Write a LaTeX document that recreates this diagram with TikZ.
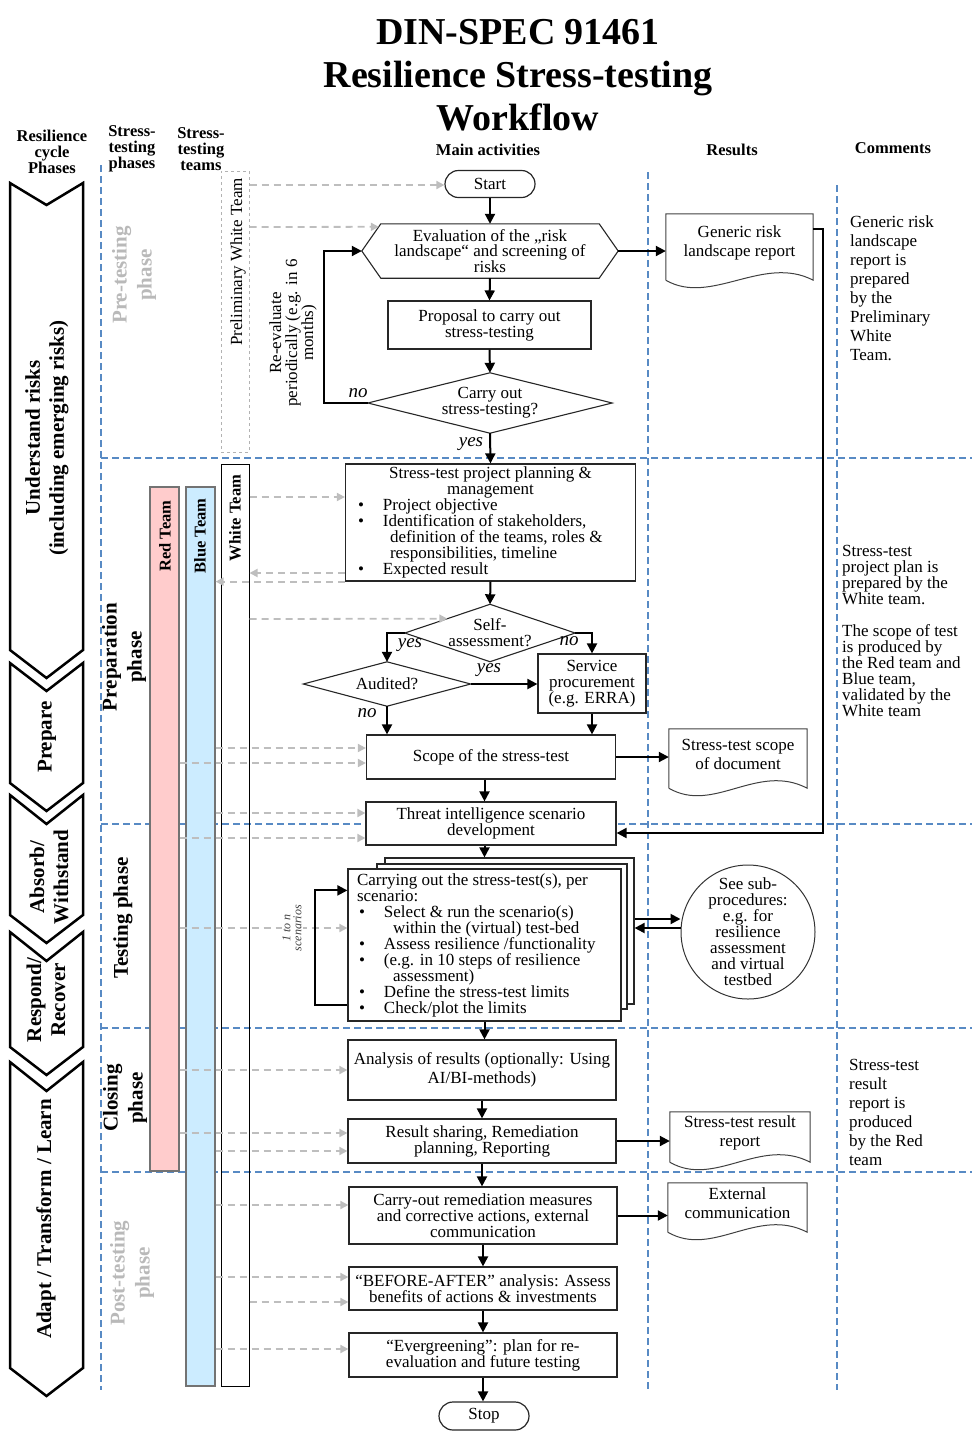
\documentclass[tikz,border=0pt]{standalone}
\usepackage{fontspec}
\setmainfont{Liberation Serif}
\usetikzlibrary{arrows.meta,calc}
\definecolor{laneblue}{RGB}{88,138,196}
\definecolor{teamgray}{RGB}{190,190,190}
\definecolor{redteam}{RGB}{255,204,204}
\definecolor{blueteam}{RGB}{204,236,255}
\definecolor{phasegray}{RGB}{185,185,185}
\newcommand{\bul}[1]{\hspace*{#1}\makebox[25pt][l]{\textbullet}}

\begin{document}
\begin{tikzpicture}[x=1pt,y=-1pt,>=Latex,font=\fontsize{17}{16}\selectfont]
  \tikzstyle{box}=[draw=black!85,line width=1.2pt,fill=white,align=center,inner sep=0pt]
  \tikzstyle{shapeline}=[draw=black!85,line width=1.1pt]
  \tikzstyle{doc}=[align=center,inner sep=0pt,font=\fontsize{17}{19}\selectfont]
  \tikzstyle{flow}=[line width=2pt,-{Triangle[length=10pt,width=10pt]}]
  \tikzstyle{teamarr}=[teamgray,line width=1.8pt,dash pattern=on 7pt off 5pt,-{Triangle[length=8pt,width=8pt]}]
  \tikzstyle{lane}=[laneblue,line width=1.5pt,dash pattern=on 7pt off 4pt]
  \tikzstyle{chev}=[draw,line width=2.5pt,fill=white,line join=miter]
  \tikzstyle{head}=[font=\fontsize{16.5}{16}\selectfont\bfseries,align=center,inner sep=0pt]
  \tikzstyle{cyc}=[font=\fontsize{21}{24}\selectfont\bfseries,align=center,rotate=90,inner sep=0pt]
  \tikzstyle{phase}=[font=\fontsize{21}{25}\selectfont\bfseries,align=center,rotate=90,inner sep=0pt]
  \tikzstyle{team}=[draw,line width=1.2pt,inner sep=0pt,minimum width=29pt]
  \tikzstyle{tlabel}=[font=\fontsize{16.5}{16}\selectfont\bfseries,rotate=90,inner sep=0pt]
  \tikzstyle{yn}=[font=\fontsize{19}{19}\selectfont\itshape,inner sep=0pt]
  \tikzstyle{note}=[align=left,anchor=north west,inner sep=0pt]

  \useasboundingbox (0,0) rectangle (977,1433);

  % lanes
  \draw[lane] (101,165) -- (101,1390);
  \draw[lane] (648,172) -- (648,1390);
  \draw[lane] (837,185) -- (837,1390);
  \foreach \y in {458,824,1028,1172}
    \draw[lane] (101,\y) -- (972,\y);

  % resilience cycle chevrons
  \foreach \t/\b/\n in {183/650/22,663/783/28,795/915/29,932/1047/29,1062/1368/29}
    \draw[chev] (10,\t) -- (46.5,\t+\n) -- (83,\t) -- (83,\b) -- (46.5,\b+28) -- (10,\b) -- cycle;
  \node[cyc] (understand) at (47,438) {Understand risks\\(including emerging risks)};
  \node[cyc] (prepare) at (47,737) {Prepare};
  \node[cyc] (absorb) at (49,877) {Absorb/\\Withstand};
  \node[cyc] (respond) at (46,1000) {Respond/\\Recover};
  \node[cyc] (adapt) at (46,1219) {Adapt / Transform / Learn};

  % stress-testing phases
  \node[phase,phasegray] (pre) at (134,275) {Pre-testing\\phase};
  \node[phase] (prep) at (124,657) {Preparation\\phase};
  \node[phase] (testing) at (123,918) {Testing phase};
  \node[phase] (closing) at (125,1098) {Closing\\phase};
  \node[phase,phasegray] (post) at (132,1273) {Post-testing\\phase};

  % title and headers
  \node[font=\fontsize{38}{43}\selectfont\bfseries,align=center,inner sep=0pt] (title) at (518,75) {DIN-SPEC 91461\\Resilience Stress-testing\\Workflow};
  \node[head] (hcycle) at (52,152) {Resilience\\cycle\\Phases};
  \node[head] (hphase) at (132,149) {Stress-\\testing\\phases};
  \node[head] (hteam) at (201,149) {Stress-\\testing\\teams};
  \node[head] (hmain) at (488,150) {Main activities};
  \node[head] (hres) at (732,150) {Results};
  \node[head] (hcom) at (893,148) {Comments};

  % teams
  \node[team,draw=gray!60,dashed,line width=1pt,minimum width=28pt,minimum height=281pt] (pwt) at (235,311.5) {};
  \node[rotate=90,inner sep=0pt] (pwtlabel) at (238,262) {Preliminary White Team};
  \node[team,draw=black!55,fill=redteam,minimum height=684pt] (red) at (164.5,829) {};
  \node[team,draw=black!55,fill=blueteam,minimum height=899pt] (blue) at (200.5,936.5) {};
  \node[team,line width=1pt,minimum width=28pt,minimum height=922pt] (white) at (235,925) {};
  \node[tlabel] (redlabel) at (165,536) {Red Team};
  \node[tlabel] (bluelabel) at (200,536) {Blue Team};
  \node[tlabel] (whitelabel) at (235,518) {White Team};

  % main activities
  \node[box,rounded corners=13.5pt,minimum width=90pt,minimum height=27pt] (start) at (490,184) {Start};
  \node[inner sep=0pt,minimum width=256pt,minimum height=54pt,align=center,font=\fontsize{17}{15.5}\selectfont] (eval) at (490,251) {Evaluation of the „risk\\landscape“ and screening of\\risks};
  \node[box,minimum width=203pt,minimum height=48pt] (prop) at (489.5,325) {Proposal to carry out\\stress-testing};
  \node[inner sep=0pt,minimum width=244pt,minimum height=60pt,align=center] (carry) at (490,403) {Carry out\\stress-testing?};
  \node[box,minimum width=290pt,minimum height=117pt] (plan) at (490.5,522.5) {\begin{minipage}{280pt}\centering
    Stress-test project planning \&\\ management\par\raggedright
    \bul{7.5pt}Project objective\\
    \bul{7.5pt}Identification of stakeholders,\\
    \hspace*{39.5pt}definition of the teams, roles \&\\
    \hspace*{39.5pt}responsibilities, timeline\\
    \bul{7.5pt}Expected result\end{minipage}};
  \node[inner sep=0pt,minimum width=170pt,minimum height=57pt,align=center] (selfq) at (490,633) {Self-\\assessment?};
  \node[inner sep=0pt,minimum width=167pt,minimum height=44pt,align=center] (audq) at (387,684) {Audited?};
  \node[box,minimum width=108pt,minimum height=59pt] (svc) at (592,683.5) {Service\\procurement\\(e.g. ERRA)};
  \node[box,minimum width=249pt,minimum height=44pt] (scope) at (491,757) {Scope of the stress-test};
  \node[box,minimum width=250pt,minimum height=43pt] (threat) at (491,823.5) {Threat intelligence scenario\\development};
  \node[box,minimum width=249pt,minimum height=146pt] (stackC) at (509.5,931) {};
  \node[box,minimum width=250pt,minimum height=145pt] (stackB) at (502,936.5) {};
  \node[box,minimum width=273pt,minimum height=152pt] (run) at (484.5,945) {\begin{minipage}{255pt}
    Carrying out the stress-test(s), per\\
    scenario:\\
    \bul{2pt}Select \& run the scenario(s)\\
    \hspace*{36pt}within the (virtual) test-bed\\
    \bul{2pt}Assess resilience /functionality\\
    \bul{2pt}(e.g. in 10 steps of resilience\\
    \hspace*{36pt}assessment)\\
    \bul{2pt}Define the stress-test limits\\
    \bul{2pt}Check/plot the limits\end{minipage}};
  \node[draw=black!80,line width=1pt,circle,minimum size=134pt,inner sep=0pt,align=center] (circ) at (748,932) {See sub-\\procedures:\\e.g. for\\resilience\\assessment\\and virtual\\testbed};
  \node[box,minimum width=268pt,minimum height=60pt,font=\fontsize{17}{19}\selectfont] (anal) at (482,1070) {Analysis of results (optionally: Using\\AI/BI-methods)};
  \node[box,minimum width=268pt,minimum height=44pt] (share) at (482,1141) {Result sharing, Remediation\\planning, Reporting};
  \node[box,minimum width=268pt,minimum height=57pt] (remed) at (483,1215.5) {Carry-out remediation measures\\and corrective actions, external\\communication};
  \node[box,minimum width=268pt,minimum height=43pt] (before) at (483,1288.5) {“BEFORE-AFTER” analysis: Assess\\benefits of actions \& investments};
  \node[box,minimum width=268pt,minimum height=44pt] (ever) at (483,1355) {“Evergreening”: plan for re-\\evaluation and future testing};
  \node[box,rounded corners=14pt,minimum width=90pt,minimum height=28pt] (stop) at (484,1416) {Stop};

  % hexagon and decisions
  \draw[shapeline] ([xshift=19pt]eval.north west) -- ([xshift=-19pt]eval.north east) -- (eval.east)
    -- ([xshift=-19pt]eval.south east) -- ([xshift=19pt]eval.south west) -- (eval.west) -- cycle;
  \foreach \q in {carry,selfq,audq}
    \draw[shapeline] (\q.north) -- (\q.east) -- (\q.south) -- (\q.west) -- cycle;

  % results
  \node[doc,minimum width=147pt,minimum height=58pt] (genrep) at (739.5,243) {Generic risk\\landscape report};
  \node[doc,minimum width=138pt,minimum height=51pt] (scoperep) at (738,754.5) {Stress-test scope\\of document};
  \node[doc,minimum width=140pt,minimum height=42pt] (resrep) at (740,1133) {Stress-test result\\report};
  \node[doc,minimum width=139pt,minimum height=41pt] (extcom) at (737.5,1203.5) {External\\communication};
  \foreach \d in {genrep,scoperep,resrep,extcom}
    \draw[draw=black!75,line width=1pt] ($(\d.south west)+(0,8)$) -- (\d.north west) -- (\d.north east)
      -- ($(\d.south east)+(0,8)$) .. controls ($(\d.south east)+(-50,-18)$) and ($(\d.south west)+(45,34)$) .. ($(\d.south west)+(0,8)$);

  % team connectors
  \foreach \src/\dst/\y in {pwt/start/185,white/plan/497,blue/scope/748,red/scope/763,blue/threat/813,red/threat/838,
      red/anal/1070,red/share/1133,blue/share/1151,blue/remed/1205,blue/before/1277,white/before/1302,blue/ever/1349}
    \draw[teamarr] (\src.east |- 0,\y) -- (\dst.west |- 0,\y);
  \draw[teamarr] (pwt.east |- 0,227) -- ($(eval.north west)+(17,3)$);
  \draw[teamarr] (plan.west |- 0,573) -- (white.east |- 0,573);
  \draw[teamarr] (plan.south west) -- (blue.east |- plan.south west);
  \draw[teamarr] (white.east |- 0,619) -- ($(selfq.west)!0.5!(selfq.north)$);
  \draw[teamarr] (red.east |- 0,928) -- node[pos=0.67,fill=white,rotate=90,align=center,inner sep=1pt,
      text=black!75,font=\fontsize{12}{11}\selectfont\itshape] (nscen) {1 to n\\scenarios} (run.west |- 0,928);

  % flow
  \draw[flow] (start.south) -- (eval.north);
  \draw[flow] (eval.south) -- (prop.north);
  \draw[flow] (prop.south) -- (carry.north);
  \draw[flow] (carry.west) -- ++(-44,0) |- (eval.west);
  \draw[flow] (carry.south) -- (plan.north);
  \draw[flow] (eval.east) -- (eval.east -| genrep.west);
  \draw[flow] ($(genrep.north east)+(0,15)$) -- ++(10,0) |- ($(threat.east)+(0,9.5)$);
  \draw[flow] (plan.south) -- (selfq.north);
  \draw[flow] (selfq.west) -| (audq.north);
  \draw[flow] (selfq.east) -| (svc.north);
  \draw[flow] (audq.east) -- (audq.east -| svc.west);
  \draw[flow] (audq.south) -- (audq.south |- scope.north);
  \draw[flow] (svc.south) -- (svc.south |- scope.north);
  \draw[flow] (scope.east) -- (scope.east -| scoperep.west);
  \draw[flow] (scope.south -| run.north) -- (threat.north -| run.north);
  \draw[flow] (threat.south -| run.north) -- (stackC.north -| run.north);
  \draw[flow] ($(run.south west)+(0,-17)$) -- ++(-32,0) |- ($(run.north west)+(0,22)$);
  \coordinate (tocirc) at ($(stackC.east)+(0,-12)$);
  \coordinate (fromcirc) at ($(stackC.east)+(0,-3)$);
  \draw[flow] (tocirc) -- (tocirc -| circ.west);
  \draw[flow] (fromcirc -| circ.west) -- (fromcirc);
  \draw[flow] (run.south) -- (run.south |- anal.north);
  \draw[flow] (anal.south) -- (share.north);
  \draw[flow] (share.south) -- (share.south |- remed.north);
  \draw[flow] (remed.south) -- (before.north);
  \draw[flow] (before.south) -- (ever.north);
  \draw[flow] (ever.south) -- (ever.south |- stop.north);
  \draw[flow] (share.east) -- (share.east -| resrep.west);
  \draw[flow] (remed.east) -- (remed.east -| extcom.west);

  % labels
  \node[rotate=90,align=center,inner sep=0pt] (reeval) at (293,333) {Re-evaluate\\periodically (e.g. in 6\\months)};
  \node[yn] (nocarry) at (358,393) {no};
  \node[yn] (yescarry) at (471,444) {yes};
  \node[yn] (yesself) at (410,645) {yes};
  \node[yn] (noself) at (569,641) {no};
  \node[yn] (yesaud) at (489,670) {yes};
  \node[yn] (noaud) at (367,713) {no};

  % comments
  \node[note,font=\fontsize{17}{19}\selectfont] (com1) at (850,215) {Generic risk\\landscape\\report is\\prepared\\by the\\Preliminary\\White\\Team.};
  \node[note] (com2) at (842,545) {Stress-test\\project plan is\\prepared by the\\White team.\\[16pt]The scope of test\\is produced by\\the Red team and\\Blue team,\\validated by the\\White team};
  \node[note,font=\fontsize{17}{19}\selectfont] (com3) at (849,1059) {Stress-test\\result\\report is\\produced\\by the Red\\team};
\end{tikzpicture}
\end{document}
